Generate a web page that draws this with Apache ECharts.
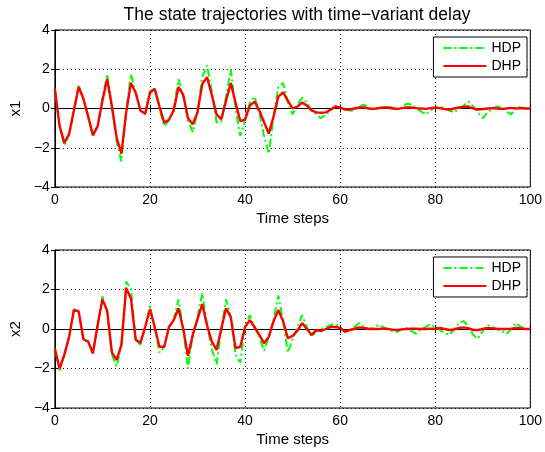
<!DOCTYPE html>
<html>
<head>
<meta charset="utf-8">
<script src="https://cdn.jsdelivr.net/npm/echarts@6/dist/echarts.min.js"></script>
<style>
html,body{margin:0;padding:0;background:#fff;}
#chart{width:545px;height:452px;}
</style>
</head>
<body>
<div id="chart"></div>
<script>
var steps = [];
for (var i = 0; i <= 100; i++) steps.push(i);

var x1HDP = [1.0,-0.9,-1.9,-1.3,-0.1,1.2,0.5,-0.4,-1.45,-0.9,
  0.5,1.75,0.1,-1.7,-2.7,-0.1,1.75,0.8,-0.1,-0.3,
  0.9,1.0,0.0,-0.9,-0.6,0.0,1.5,0.6,-0.6,-1.2,
  -0.2,1.6,2.2,0.9,-0.7,-0.7,0.6,2.0,0.0,-1.4,
  -0.6,0.3,0.6,-0.2,-1.4,-2.3,-0.4,1.1,1.3,0.3,
  -0.3,0.2,0.55,0.3,-0.1,-0.3,-0.5,-0.3,-0.1,0.1,
  0.05,-0.05,-0.1,-0.1,0.1,0.2,0.05,-0.05,0.0,0.05,
  0.1,0.05,-0.05,0.05,0.25,0.2,0.0,-0.15,-0.3,-0.1,
  0.05,0.1,0.0,-0.1,-0.2,0.0,0.15,0.35,0.1,-0.2,
  -0.5,-0.2,0.0,0.1,0.05,-0.15,-0.3,0.1,0.05,0.0,0.0];

var x1DHP = [1.0,-0.9,-1.75,-1.3,-0.1,1.1,0.5,-0.4,-1.36,-0.9,
  0.4,1.5,0.1,-1.5,-2.3,-0.2,1.3,0.8,-0.1,-0.27,
  0.8,1.0,0.1,-0.72,-0.57,-0.1,1.1,0.7,-0.5,-0.8,
  -0.2,1.25,1.6,0.7,-0.3,-0.55,0.4,1.3,0.3,-0.64,
  -0.57,0.15,0.35,-0.1,-0.7,-1.28,-0.4,0.6,0.82,0.4,
  0.0,0.1,0.3,0.15,-0.1,-0.2,-0.22,-0.2,-0.05,0.1,
  0.05,-0.05,-0.05,0.0,0.05,0.05,0.0,-0.02,0.02,0.05,
  0.05,0.0,-0.02,0.02,0.05,0.05,0.02,0.0,-0.02,0.02,
  0.05,0.02,-0.03,-0.05,0.0,0.05,0.08,0.1,0.0,-0.05,
  -0.03,0.0,0.02,0.0,-0.02,0.0,0.03,0.0,0.02,0.0,0.0];

var x2HDP = [-1.0,-2.1,-1.3,-0.4,1.0,0.9,-0.5,-0.6,-1.3,0.2,
  1.65,0.9,-1.3,-1.9,-0.8,2.4,2.0,-0.5,-0.8,0.1,
  1.15,0.1,-1.2,-0.9,0.1,0.5,1.5,0.0,-2.0,-0.3,
  0.6,1.8,0.2,-1.0,-1.8,0.0,1.5,0.6,-1.3,-1.7,
  0.1,0.7,0.1,-0.4,-1.1,-0.4,0.5,1.7,0.4,-1.2,
  -0.5,0.1,0.7,0.1,-0.4,-0.1,0.0,0.1,0.2,0.25,
  0.1,-0.15,-0.05,0.1,0.3,0.1,0.0,0.05,0.2,0.1,
  0.0,-0.1,-0.15,0.0,0.05,-0.1,-0.25,0.0,0.1,0.25,
  0.1,-0.05,-0.2,-0.3,0.0,0.3,0.4,0.1,-0.3,-0.5,
  -0.1,0.2,0.1,0.0,-0.1,-0.25,0.0,0.3,0.1,0.0,0.0];

var x2DHP = [-1.0,-2.0,-1.3,-0.4,0.96,0.9,-0.52,-0.64,-1.23,0.2,
  1.5,0.92,-1.2,-1.56,-0.8,2.08,1.55,-0.55,-0.7,0.1,
  1.0,0.1,-0.9,-0.9,0.1,0.45,1.05,0.0,-1.36,-0.3,
  0.5,1.26,0.2,-0.64,-1.06,0.0,1.05,0.6,-0.97,-0.9,
  0.1,0.45,0.1,-0.3,-0.72,-0.4,0.4,0.96,0.4,-0.47,
  -0.35,-0.1,0.3,0.0,-0.3,-0.05,-0.1,0.0,0.1,0.1,
  0.05,-0.13,-0.05,0.0,0.08,0.05,0.0,0.0,0.0,0.02,
  0.0,-0.03,-0.05,-0.02,0.0,0.02,0.02,0.0,0.0,0.02,
  0.03,0.05,0.0,-0.05,-0.02,0.05,0.08,0.03,-0.05,-0.05,
  0.0,0.05,0.03,0.0,0.0,0.0,0.02,0.05,0.03,0.0,0.0];

var titleText = 'The state trajectories with time\u2212variant delay';
var xName = 'Time steps';
var yNames = ['x1', 'x2'];
var seriesNames = ['HDP', 'DHP'];

var FONT = 'Liberation Sans, Arial, sans-serif';
var TICK = {color: '#000', fontFamily: FONT, fontSize: 14};
var NAME = {color: '#000', fontFamily: FONT, fontSize: 15};

function pairs(arr) { return arr.map(function (v, i) { return [steps[i], v]; }); }
function minusFmt(v) { return String(v).replace('-', '\u2212'); }

var grids = [
  {left: 51, right: 12, top: 30, height: 157},
  {left: 51, right: 12, top: 250, height: 158}
];

var xAxes = [], yAxes = [], series = [], legends = [];
grids.forEach(function (g, gi) {
  xAxes.push({
    type: 'value', gridIndex: gi, min: 0, max: 100, interval: 20,
    name: xName, nameLocation: 'middle', nameGap: 24,
    nameTextStyle: NAME,
    axisLine: {show: true, lineStyle: {color: '#000', width: 1}},
    axisTick: {show: true, inside: true, length: 4, lineStyle: {color: '#000'}},
    axisLabel: Object.assign({margin: 6}, TICK),
    splitLine: {show: true, lineStyle: {color: '#000', type: [1, 3], width: 1}}
  });
  xAxes.push({
    type: 'value', gridIndex: gi, min: 0, max: 100, interval: 20, position: 'top',
    axisLine: {show: true, lineStyle: {color: '#000', width: 1}},
    axisTick: {show: true, inside: true, length: 4, lineStyle: {color: '#000'}},
    axisLabel: {show: false}, splitLine: {show: false}
  });
  yAxes.push({
    type: 'value', gridIndex: gi, min: -4, max: 4, interval: 2,
    name: yNames[gi], nameLocation: 'middle', nameGap: 30, nameRotate: 90,
    nameTextStyle: NAME,
    axisLine: {show: true, lineStyle: {color: '#000', width: 1}},
    axisTick: {show: true, inside: true, length: 4, lineStyle: {color: '#000'}},
    axisLabel: Object.assign({margin: 5, formatter: minusFmt}, TICK),
    splitLine: {show: true, lineStyle: {color: '#000', type: [1, 3], width: 1}}
  });
  yAxes.push({
    type: 'value', gridIndex: gi, min: -4, max: 4, interval: 2, position: 'right',
    axisLine: {show: true, lineStyle: {color: '#000', width: 1}},
    axisTick: {show: true, inside: true, length: 4, lineStyle: {color: '#000'}},
    axisLabel: {show: false}, splitLine: {show: false}
  });
  var hdp = gi === 0 ? x1HDP : x2HDP;
  var dhp = gi === 0 ? x1DHP : x2DHP;
  series.push({
    name: seriesNames[0], type: 'line', xAxisIndex: gi * 2, yAxisIndex: gi * 2,
    data: pairs(hdp), symbol: 'none', animation: false,
    lineStyle: {color: '#00ff00', width: 2, type: [8, 3, 2, 3]},
    itemStyle: {color: '#00ff00'}
  });
  series.push({
    name: seriesNames[1], type: 'line', xAxisIndex: gi * 2, yAxisIndex: gi * 2,
    data: pairs(dhp), symbol: 'none', animation: false,
    lineStyle: {color: '#ff0000', width: 2.4},
    itemStyle: {color: '#ff0000'}
  });
  legends.push({
    data: seriesNames, orient: 'vertical',
    right: 18, top: g.top + 7,
    itemWidth: 43, itemHeight: 1, itemGap: 4,
    padding: [4, 6, 4, 9],
    backgroundColor: '#fff', borderColor: '#000', borderWidth: 1,
    textStyle: TICK, selectedMode: false
  });
});

var chart = echarts.init(document.getElementById('chart'), null, {renderer: 'canvas'});
chart.setOption({
  backgroundColor: '#fff',
  animation: false,
  title: {text: titleText, top: 1, left: 292, textAlign: 'center',
    textStyle: {color: '#000', fontFamily: FONT, fontSize: 17.5, fontWeight: 'normal'}},
  grid: grids.map(function (g) { return Object.assign({show: true, borderColor: '#000', borderWidth: 1, backgroundColor: '#fff'}, g); }),
  xAxis: xAxes,
  yAxis: yAxes,
  legend: legends,
  series: series
});
</script>
</body>
</html>
